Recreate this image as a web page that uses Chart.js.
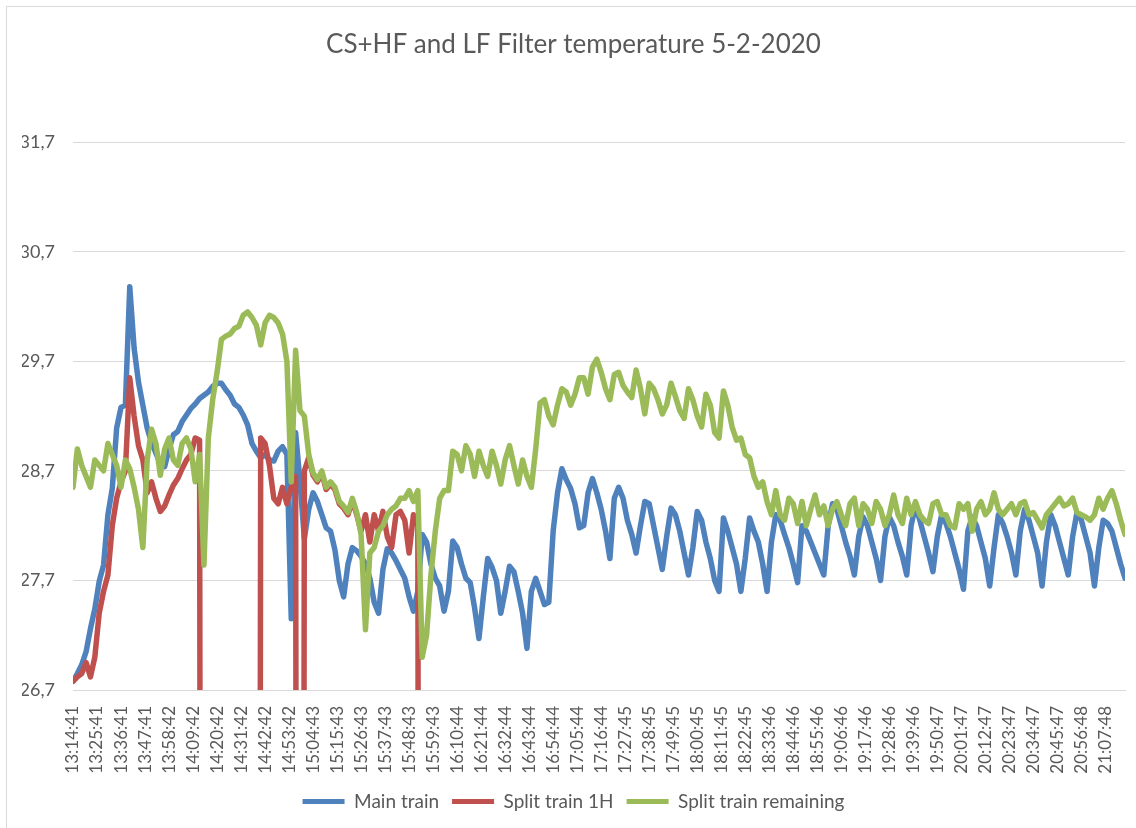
<!DOCTYPE html>
<html>
<head>
<meta charset="utf-8">
<script src="https://cdn.jsdelivr.net/npm/chart.js@4.4.1/dist/chart.umd.min.js"></script>
<style>
  html, body { margin: 0; padding: 0; background: #fff; }
  #frame { position: absolute; left: 6px; top: 6px; width: 1140px; height: 830px; border: 1px solid #d9d9d9; box-sizing: border-box; }
  #chart { position: absolute; left: 0; top: 0; }
</style>
</head>
<body>
<div id="frame"></div>
<canvas id="chart" width="1136" height="828"></canvas>
<script>
// one reading every 2 minutes, starting 13:14:41
const STEP_MIN = 2;
const TICK_EVERY_MIN = 11;

const tickLabels = [
  "13:14:41", "13:25:41", "13:36:41", "13:47:41", "13:58:42", "14:09:42", "14:20:42", "14:31:42",
  "14:42:42", "14:53:42", "15:04:43", "15:15:43", "15:26:43", "15:37:43", "15:48:43", "15:59:43",
  "16:10:44", "16:21:44", "16:32:44", "16:43:44", "16:54:44", "17:05:44", "17:16:44", "17:27:45",
  "17:38:45", "17:49:45", "18:00:45", "18:11:45", "18:22:45", "18:33:46", "18:44:46", "18:55:46",
  "19:06:46", "19:17:46", "19:28:46", "19:39:46", "19:50:47", "20:01:47", "20:12:47", "20:23:47",
  "20:34:47", "20:45:47", "20:56:48", "21:07:48"
];
const yTickValues = [26.7, 27.7, 28.7, 29.7, 30.7, 31.7];

const mainTrain = [
  26.78, 26.85, 26.93, 27.05, 27.26, 27.44, 27.69, 27.84, 28.30, 28.54,
  29.09, 29.28, 29.30, 30.38, 29.82, 29.51, 29.30, 29.09, 28.96, 28.86,
  28.77, 28.74, 28.90, 29.03, 29.06, 29.15, 29.21, 29.27, 29.31, 29.36,
  29.39, 29.42, 29.47, 29.50, 29.50, 29.44, 29.39, 29.31, 29.28, 29.21,
  29.12, 28.95, 28.88, 28.82, 28.85, 28.80, 28.79, 28.88, 28.92, 28.85,
  27.35, 29.05, 28.60, 28.08, 28.35, 28.50, 28.42, 28.30, 28.18, 28.15,
  27.98, 27.70, 27.55, 27.85, 28.00, 27.97, 27.92, 27.85, 27.72, 27.50,
  27.40, 27.80, 27.99, 27.95, 27.88, 27.80, 27.72, 27.55, 27.42, 27.60,
  28.12, 28.05, 27.85, 27.72, 27.65, 27.42, 27.60, 28.06, 28.00, 27.85,
  27.72, 27.68, 27.45, 27.17, 27.55, 27.90, 27.82, 27.70, 27.40, 27.60,
  27.83, 27.78, 27.60, 27.40, 27.08, 27.60, 27.72, 27.60, 27.48, 27.50,
  28.15, 28.50, 28.72, 28.62, 28.54, 28.40, 28.18, 28.20, 28.50, 28.63,
  28.50, 28.35, 28.15, 27.90, 28.45, 28.55, 28.45, 28.25, 28.12, 27.95,
  28.20, 28.42, 28.40, 28.20, 28.00, 27.80, 28.10, 28.36, 28.30, 28.15,
  27.95, 27.75, 28.00, 28.33, 28.25, 28.05, 27.90, 27.70, 27.60, 28.27,
  28.15, 28.00, 27.85, 27.60, 27.90, 28.27, 28.15, 28.05, 27.85, 27.60,
  28.05, 28.30, 28.25, 28.12, 28.00, 27.85, 27.68, 28.20, 28.15, 28.05,
  27.95, 27.85, 27.75, 28.20, 28.40, 28.35, 28.20, 28.05, 27.92, 27.75,
  28.10, 28.28, 28.20, 28.05, 27.90, 27.70, 28.10, 28.28, 28.20, 28.05,
  27.92, 27.75, 28.20, 28.38, 28.25, 28.10, 27.95, 27.78, 28.10, 28.30,
  28.22, 28.10, 27.95, 27.80, 27.62, 28.15, 28.28, 28.20, 28.05, 27.90,
  27.65, 28.00, 28.30, 28.22, 28.10, 27.95, 27.75, 28.15, 28.35, 28.25,
  28.10, 27.95, 27.65, 28.05, 28.30, 28.20, 28.05, 27.90, 27.75, 28.10,
  28.32, 28.25, 28.10, 27.95, 27.65, 28.00, 28.25, 28.22, 28.15, 28.00,
  27.85, 27.72
];

// sensor dropped out (reads far below the axis) at the vertical red lines
const splitTrain1H = [
  26.78, 26.82, 26.85, 26.95, 26.82, 27.00, 27.40, 27.60, 27.75, 28.20,
  28.45, 28.60, 28.70, 29.55, 29.20, 28.93, 28.80, 28.50, 28.60, 28.45,
  28.33, 28.38, 28.48, 28.57, 28.63, 28.72, 28.80, 28.85, 29.00, 28.98,
  0, 0, 0, 0, 0, 0, 0, 0, 0, 0,
  0, 0, 0, 29.00, 28.95, 28.75, 28.45, 28.40, 28.55, 28.40,
  28.55, 28.65, 0, 28.70, 28.82, 28.66, 28.60, 28.68, 28.53, 28.58,
  28.53, 28.40, 28.36, 28.30, 28.43, 28.30, 28.15, 28.30, 28.05, 28.30,
  28.15, 28.33, 28.10, 28.00, 28.30, 28.33, 28.25, 27.95, 28.30, 28.20,
  0
];

const splitTrainRemaining = [
  28.55, 28.90, 28.75, 28.65, 28.55, 28.80, 28.75, 28.70, 28.95, 28.85,
  28.75, 28.55, 28.80, 28.72, 28.55, 28.35, 28.00, 28.80, 29.08, 28.95,
  28.66, 28.90, 29.00, 28.80, 28.75, 28.95, 29.00, 28.90, 28.60, 28.85,
  27.84, 29.00, 29.35, 29.60, 29.90, 29.93, 29.95, 30.00, 30.02, 30.12,
  30.15, 30.10, 30.03, 29.85, 30.05, 30.12, 30.10, 30.05, 29.95, 29.70,
  28.60, 29.80, 29.25, 29.20, 28.85, 28.68, 28.62, 28.70, 28.55, 28.60,
  28.55, 28.42, 28.38, 28.32, 28.45, 28.32, 28.12, 27.25, 27.95, 28.00,
  28.15, 28.20, 28.30, 28.35, 28.38, 28.45, 28.45, 28.52, 28.42, 28.52,
  27.00, 27.20, 27.75, 28.15, 28.45, 28.52, 28.52, 28.88, 28.85, 28.70,
  28.93, 28.85, 28.65, 28.88, 28.75, 28.65, 28.88, 28.75, 28.58, 28.80,
  28.93, 28.75, 28.58, 28.80, 28.65, 28.55, 28.90, 29.32, 29.35, 29.20,
  29.12, 29.30, 29.45, 29.42, 29.30, 29.40, 29.55, 29.55, 29.40, 29.65,
  29.72, 29.60, 29.45, 29.35, 29.58, 29.60, 29.48, 29.42, 29.37, 29.62,
  29.45, 29.22, 29.50, 29.45, 29.35, 29.22, 29.30, 29.50, 29.38, 29.25,
  29.18, 29.45, 29.35, 29.20, 29.10, 29.40, 29.30, 29.05, 29.00, 29.43,
  29.30, 29.10, 28.98, 29.00, 28.85, 28.82, 28.65, 28.55, 28.60, 28.42,
  28.30, 28.52, 28.30, 28.25, 28.45, 28.40, 28.22, 28.42, 28.20, 28.35,
  28.48, 28.30, 28.38, 28.20, 28.35, 28.42, 28.30, 28.20, 28.40, 28.45,
  28.20, 28.40, 28.35, 28.22, 28.42, 28.35, 28.20, 28.30, 28.48, 28.30,
  28.22, 28.45, 28.30, 28.42, 28.30, 28.25, 28.22, 28.40, 28.42, 28.30,
  28.30, 28.20, 28.18, 28.40, 28.35, 28.40, 28.15, 28.35, 28.42, 28.30,
  28.35, 28.50, 28.35, 28.30, 28.35, 28.40, 28.30, 28.40, 28.42, 28.30,
  28.32, 28.25, 28.18, 28.30, 28.35, 28.40, 28.45, 28.38, 28.40, 28.45,
  28.32, 28.30, 28.28, 28.25, 28.30, 28.45, 28.35, 28.45, 28.52, 28.40,
  28.25, 28.12
];

const textColor = "#595959";
const gridColor = "#d9d9d9";

function toPoints(values) {
  return values.map((v, i) => ({ x: i * STEP_MIN, y: v }));
}

new Chart(document.getElementById("chart"), {
  type: "line",
  data: {
    datasets: [
      { label: "Main train", data: toPoints(mainTrain), borderColor: "#4F81BD", backgroundColor: "#4F81BD", order: 3 },
      { label: "Split train 1H", data: toPoints(splitTrain1H), borderColor: "#C0504D", backgroundColor: "#C0504D", order: 2 },
      { label: "Split train remaining", data: toPoints(splitTrainRemaining), borderColor: "#9BBB59", backgroundColor: "#9BBB59", order: 1 }
    ]
  },
  options: {
    responsive: false,
    animation: false,
    elements: {
      line: { borderWidth: 5.5, tension: 0, borderJoinStyle: "round", borderCapStyle: "round" },
      point: { radius: 0 }
    },
    layout: { padding: { left: 22, right: 11, top: 0, bottom: 7 } },
    plugins: {
      title: {
        display: true,
        text: "CS+HF and LF Filter temperature 5-2-2020",
        color: textColor,
        font: { family: "Lato", size: 26, weight: "normal" },
        padding: { top: 29, bottom: 82 }
      },
      legend: {
        position: "bottom",
        labels: {
          boxWidth: 42,
          boxHeight: 5,
          padding: 13,
          color: textColor,
          font: { family: "Lato", size: 19 },
          sort: (a, b) => a.datasetIndex - b.datasetIndex,
          generateLabels: chart => Chart.defaults.plugins.legend.labels.generateLabels(chart)
            .map(l => Object.assign(l, { fillStyle: l.strokeStyle, lineWidth: 0 }))
        }
      },
      tooltip: { enabled: false }
    },
    scales: {
      x: {
        type: "linear",
        min: 0,
        max: (mainTrain.length - 1) * STEP_MIN,
        grid: { display: false },
        border: { display: true, color: gridColor, width: 1 },
        afterBuildTicks: s => { s.ticks = tickLabels.map((t, k) => ({ value: k * TICK_EVERY_MIN })); },
        afterFit: s => { s.height = 89; },
        ticks: {
          autoSkip: false,
          minRotation: 90,
          maxRotation: 90,
          padding: 8,
          color: textColor,
          font: { family: "Lato", size: 17 },
          callback: (v, i) => tickLabels[i]
        }
      },
      y: {
        min: yTickValues[0],
        max: yTickValues[yTickValues.length - 1],
        afterBuildTicks: s => { s.ticks = yTickValues.map(v => ({ value: v })); },
        afterFit: s => { s.width = 51; },
        grid: { color: gridColor, drawTicks: false },
        border: { display: false },
        ticks: {
          padding: 18,
          color: textColor,
          font: { family: "Lato", size: 18 },
          callback: v => v.toFixed(1).replace(".", ",")
        }
      }
    }
  }
});
</script>
</body>
</html>
